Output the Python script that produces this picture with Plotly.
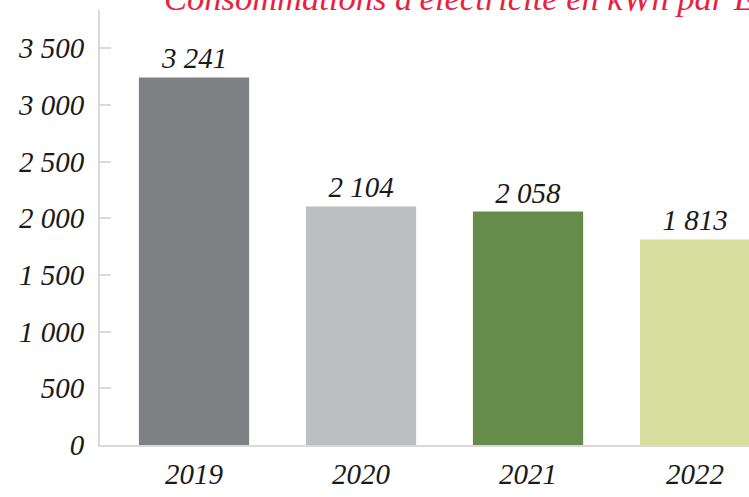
import plotly.graph_objects as go

categories = ["2019", "2020", "2021", "2022"]
values = [3241, 2104, 2058, 1813]
value_labels = ["3 241", "2 104", "2 058", "1 813"]
bar_colors = ["#7f8084", "#bdbec0", "#668c4c", "#d5de9c"]
tick_vals = [0, 500, 1000, 1500, 2000, 2500, 3000, 3500]
tick_text = ["0", "500", "1 000", "1 500", "2 000", "2 500", "3 000", "3 500"]
title_text = "Consommations d'électricité en kWh par E"

font_family = "Liberation Serif, Times New Roman, serif"

fig = go.Figure()
fig.add_trace(go.Bar(
    x=categories, y=values,
    marker=dict(color=bar_colors, line=dict(width=0)),
    text=value_labels, textposition="outside",
    textfont=dict(family=font_family, size=29, color="#1a1a1a", style="italic"),
    cliponaxis=False,
    width=0.66,
))

fig.add_annotation(
    text=title_text, xref="paper", yref="paper", x=0.096, y=0.979,
    xanchor="left", yanchor="bottom", showarrow=False,
    font=dict(family=font_family, size=34.5, color="#e8213f", style="italic"),
)

fig.update_layout(
    width=749, height=497,
    margin=dict(l=100, r=0, t=10, b=52, autoexpand=False),
    paper_bgcolor="white", plot_bgcolor="white",
    showlegend=False,
    bargap=0.34,
    hovermode=False,
    font=dict(family=font_family, size=29, color="#1a1a1a", style="italic"),
)
fig.update_xaxes(
    type="category", range=[-0.563, 3.323], automargin=False,
    showline=True, linecolor="#d9d9d9", linewidth=2,
    showgrid=False, ticks="", ticklabelstandoff=2,
    tickfont=dict(family=font_family, size=29, color="#1a1a1a", style="italic"),
)
fig.update_yaxes(
    range=[0, 3836], tickvals=tick_vals, ticktext=tick_text, automargin=False,
    showline=True, linecolor="#d9d9d9", linewidth=2,
    showgrid=False, zeroline=False,
    ticks="inside", ticklen=11, tickcolor="#d9d9d9", tickwidth=2,
    ticklabelstandoff=8,
    tickfont=dict(family=font_family, size=29, color="#1a1a1a", style="italic"),
)

fig.write_html(
    "out.html",
    config={"displayModeBar": False},
    default_width="749px", default_height="497px",
    post_script="document.body.style.margin='0';document.body.style.overflow='hidden';",
)
